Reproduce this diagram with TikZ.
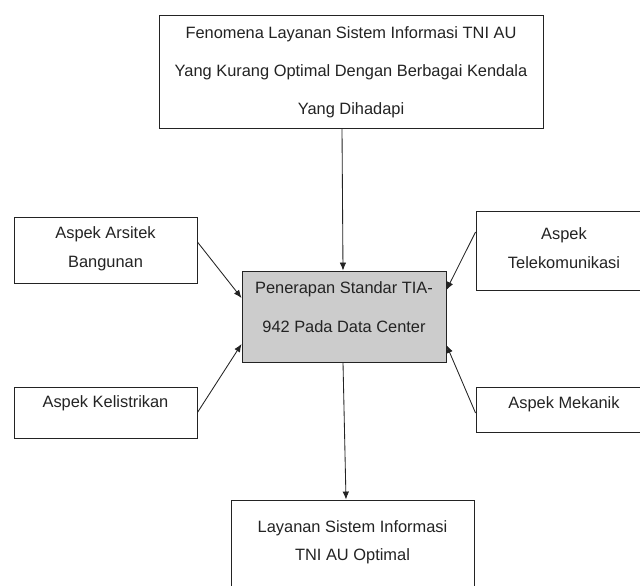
\documentclass[tikz,border=0pt]{standalone}
\usepackage{fontspec}
\setmainfont{Liberation Sans}
\usetikzlibrary{arrows.meta}
\definecolor{boxgray}{RGB}{204,204,204}
\definecolor{ink}{RGB}{35,35,35}
\tikzset{
  box/.style={draw=ink, line width=0.9pt, rectangle, inner sep=0pt},
  txt/.style={align=center, text=ink, inner sep=0pt},
  arr/.style={draw=ink, line width=0.85pt, -{Latex[length=8pt,width=6.5pt]}},
}
\begin{document}
\begin{tikzpicture}[x=1pt,y=-1pt]
\clip (0,0) rectangle (640,586);
\fill[white] (0,0) rectangle (640,586);
% boxes
\node[box, minimum width=384pt, minimum height=113pt] (top) at (351,71.5) {};
\node[box, fill=boxgray, minimum width=204pt, minimum height=91pt] (ctr) at (344,316.5) {};
\node[box, minimum width=183pt, minimum height=66pt] (lt) at (105.5,250) {};
\node[box, minimum width=183pt, minimum height=51pt] (lb) at (105.5,412.5) {};
\node[box, minimum width=176pt, minimum height=79pt] (rt) at (564,250.5) {};
\node[box, minimum width=176pt, minimum height=45pt] (rb) at (564,409.5) {};
\node[box, minimum width=243pt, minimum height=112pt] (bot) at (352.5,556) {};
% texts
\node[txt, font=\fontsize{16.4}{38}\selectfont] (topT) at (351,72) {Fenomena Layanan Sistem Informasi TNI AU\\Yang Kurang Optimal Dengan Berbagai Kendala\\Yang Dihadapi};
\node[txt, font=\fontsize{16.4}{39}\selectfont] (ctrT) at (344,307.5) {Penerapan Standar TIA-\\942 Pada Data Center};
\node[txt, font=\fontsize{16.4}{29}\selectfont] (ltT) at (105.5,248.5) {Aspek Arsitek\\Bangunan};
\node[txt, font=\fontsize{16.4}{29}\selectfont] (lbT) at (105.5,403) {Aspek Kelistrikan};
\node[txt, font=\fontsize{16.4}{29}\selectfont] (rtT) at (564,248.5) {Aspek\\Telekomunikasi};
\node[txt, font=\fontsize{16.4}{29}\selectfont] (rbT) at (564,404) {Aspek Mekanik};
\node[txt, font=\fontsize{16.4}{28}\selectfont] (botT) at (352.5,542) {Layanan Sistem Informasi\\TNI AU Optimal};
% connectors
\draw[arr] ([xshift=-9pt]top.south) -- ([xshift=-1pt]ctr.north);
\draw[arr] ([yshift=8pt]lt.east) -- ([yshift=18.5pt]ctr.west);
\draw[arr] (lb.east) -- ([yshift=-27.5pt]ctr.west);
\draw[arr] ([yshift=18.5pt]rt.west) -- ([yshift=26.5pt]ctr.east);
\draw[arr] ([yshift=-3.5pt]rb.west) -- ([yshift=-28.5pt]ctr.east);
\draw[arr] ([xshift=-1pt]ctr.south) -- ([xshift=-6.5pt]bot.north);
\end{tikzpicture}
\end{document}
